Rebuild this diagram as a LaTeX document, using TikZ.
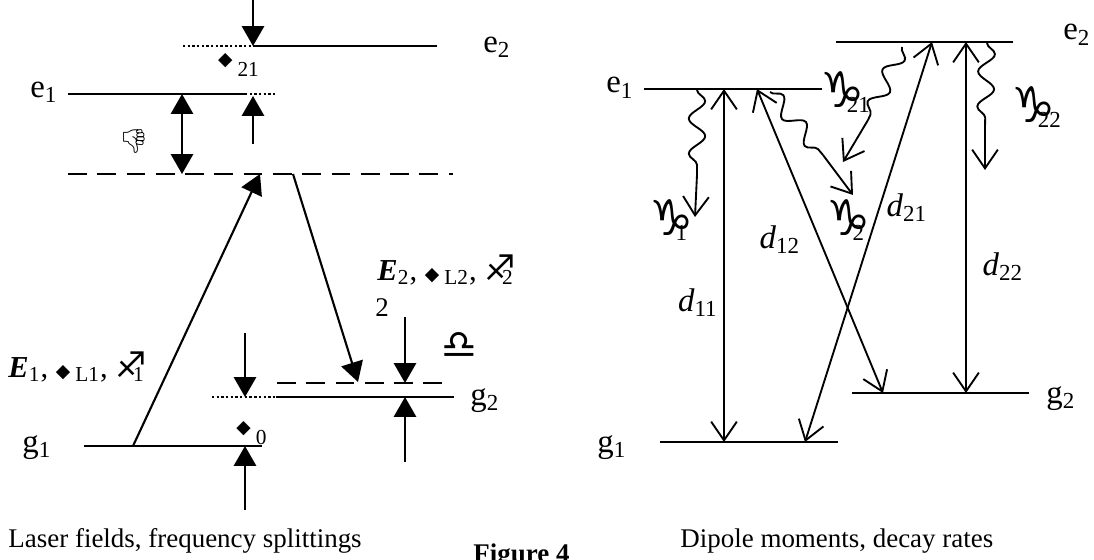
\documentclass[tikz,border=0pt]{standalone}
\usepackage{fontspec}
\setmainfont{Liberation Serif}
\newfontfamily\symfont{DejaVu Sans}
\newfontfamily\emojifont{Noto Emoji}
\usetikzlibrary{arrows.meta,decorations.pathmorphing}
\newcommand{\dmd}{{\symfont\fontsize{8pt}{8pt}\selectfont ◆}}
\newcommand{\capr}[1]{{\symfont\fontsize{21pt}{21pt}\selectfont ♑}\kern-0.55em\textsubscript{#1}}
\newcommand{\sgtr}[1]{{\symfont\fontsize{15pt}{15pt}\selectfont ♐}\kern-0.45em\textsubscript{#1}}
\tikzset{
  lvl/.style={line width=0.9pt},
  dotlvl/.style={line width=0.9pt, dash pattern=on 1pt off 1pt},
  dashlvl/.style={line width=0.9pt, dash pattern=on 8pt off 4.5pt},
  farr/.style={-{Triangle[length=8.5pt,width=9.5pt]}, line width=0.9pt},
  fdarr/.style={{Triangle[length=8.5pt,width=9.5pt]}-{Triangle[length=8.5pt,width=9.5pt]}, line width=0.9pt},
  oarr/.style={-{Straight Barb[length=8pt,width=11pt]}, line width=0.8pt},
  odarr/.style={{Straight Barb[length=8pt,width=11pt]}-{Straight Barb[length=8pt,width=11pt]}, line width=0.8pt},
  wavy/.style={decorate, decoration={snake, amplitude=3.5pt, segment length=15pt}, line width=0.8pt},
  lbl/.style={inner sep=0pt},
  big/.style={lbl, font=\fontsize{14pt}{16pt}\selectfont}
}

\begin{document}
\begin{tikzpicture}[x=0.015cm, y=-0.015cm, font=\fontsize{11.5pt}{14pt}\selectfont]
\useasboundingbox (0,0) rectangle (1094,560);

% laser fields, frequency splittings
\coordinate (e2a) at (183,46);
\coordinate (e2b) at (253,46);
\coordinate (e2c) at (437,46);
\coordinate (e1a) at (68,94);
\coordinate (e1b) at (245,94);
\coordinate (e1c) at (276,94);
\coordinate (va) at (68,174);
\coordinate (vb) at (453,174);
\coordinate (wa) at (277,383);
\coordinate (wb) at (447,383);
\coordinate (g2a) at (212,397);
\coordinate (g2b) at (276,397);
\coordinate (g2c) at (454,397);
\coordinate (g1a) at (84,446);
\coordinate (g1b) at (262,446);
\draw[dotlvl] (e2a) -- (e2b);
\draw[lvl] (e2b) -- (e2c);
\draw[lvl] (e1a) -- (e1b);
\draw[dotlvl] (e1b) -- (e1c);
\draw[dashlvl] (va) -- (vb);
\draw[dashlvl] (wa) -- (wb);
\draw[dotlvl] (g2a) -- (g2b);
\draw[lvl] (g2b) -- (g2c);
\draw[lvl] (g1a) -- (g1b);

\node[big, anchor=base] (le2) at (497,52) {e\textsubscript{2}};
\node[big, anchor=base] (le1) at (44,97) {e\textsubscript{1}};
\node[big, anchor=base] (lg2) at (485,405) {g\textsubscript{2}};
\node[big, anchor=base] (lg1) at (37,452) {g\textsubscript{1}};

\coordinate (t0) at (253,-2);
\coordinate (t1) at (253,46);
\coordinate (u0) at (253,144);
\coordinate (u1) at (253,96);
\coordinate (s0) at (182,94);
\coordinate (s1) at (182,174);
\draw[farr] (t0) -- (t1);
\draw[farr] (u0) -- (u1);
\draw[fdarr] (s0) -- (s1);
\node[lbl, font=\fontsize{13pt}{14pt}\selectfont] (w21) at (239,65) {\dmd\,\raisebox{-3pt}{\textsubscript{21}}};
\node[lbl] (dlt) at (134,141) {\emojifont\fontsize{10pt}{10pt}\selectfont 👎};

\coordinate (p0) at (133,446);
\coordinate (p1) at (260,174);
\coordinate (q0) at (293,174);
\coordinate (q1) at (358,382);
\draw[farr] (p0) -- (p1);
\draw[farr] (q0) -- (q1);
\node[lbl, anchor=west, font=\fontsize{13pt}{14pt}\selectfont] (f1) at (8,367) {\textbf{\textit{E}}\textsubscript{1}, \dmd\,\textsubscript{L1}, \sgtr{1}};
\node[lbl, anchor=west, font=\fontsize{13pt}{14pt}\selectfont] (f2) at (377,270) {\textbf{\textit{E}}\textsubscript{2}, \dmd\,\textsubscript{L2}, \sgtr{2}};
\node[lbl] (f2b) at (382,308) {2};
\node[lbl] (dl) at (459,345) {\symfont\fontsize{17pt}{17pt}\selectfont ♎};

\coordinate (h0) at (245,333);
\coordinate (h1) at (245,397);
\coordinate (k0) at (405,317);
\coordinate (k1) at (405,383);
\coordinate (m0) at (405,462);
\coordinate (m1) at (405,397);
\coordinate (n0) at (245,510);
\coordinate (n1) at (245,446);
\draw[farr] (h0) -- (h1);
\draw[farr] (k0) -- (k1);
\draw[farr] (m0) -- (m1);
\draw[farr] (n0) -- (n1);
\node[lbl, font=\fontsize{13pt}{14pt}\selectfont] (w0) at (252,433) {\dmd\,\raisebox{-3pt}{\textsubscript{0}}};

\node[lbl, anchor=base west] (capl) at (8,547) {Laser fields, frequency splittings};
\node[lbl, anchor=base west, font=\fontsize{11.5pt}{14pt}\selectfont\bfseries] (fig) at (473,562) {Figure 4};

% dipole moments, decay rates
\coordinate (E1a) at (644,89);
\coordinate (E1b) at (822,89);
\coordinate (E2a) at (836,42);
\coordinate (E2b) at (1013,42);
\coordinate (G1a) at (660,442);
\coordinate (G1b) at (838,442);
\coordinate (G2a) at (852,393);
\coordinate (G2b) at (1029,393);
\draw[lvl] (E1a) -- (E1b);
\draw[lvl] (E2a) -- (E2b);
\draw[lvl] (G1a) -- (G1b);
\draw[lvl] (G2a) -- (G2b);
\node[big, anchor=base] (lE1) at (620,93) {e\textsubscript{1}};
\node[big, anchor=base] (lE2) at (1077,40) {e\textsubscript{2}};
\node[big, anchor=base] (lG1) at (612,452) {g\textsubscript{1}};
\node[big, anchor=base] (lG2) at (1061,403) {g\textsubscript{2}};

\coordinate (d11a) at (724,89);
\coordinate (d11b) at (724,442);
\coordinate (d12a) at (757,89);
\coordinate (d12b) at (883,393);
\coordinate (d21a) at (932,42);
\coordinate (d21b) at (805,442);
\coordinate (d22a) at (966,42);
\coordinate (d22b) at (966,393);
\draw[odarr] (d11a) -- (d11b);
\draw[odarr] (d12a) -- (d12b);
\draw[odarr] (d21a) -- (d21b);
\draw[odarr] (d22a) -- (d22b);
\node[big] (ld11) at (698,303) {\textit{d}\textsubscript{11}};
\node[big] (ld12) at (780,240) {\textit{d}\textsubscript{12}};
\node[big] (ld21) at (907,208) {\textit{d}\textsubscript{21}};
\node[big] (ld22) at (1003,267) {\textit{d}\textsubscript{22}};

\coordinate (r1a) at (697,90);
\coordinate (r1b) at (697,175);
\coordinate (r1c) at (695,217);
\coordinate (r2a) at (770,92);
\coordinate (r2b) at (823,155);
\coordinate (r2c) at (853,195);
\coordinate (r3a) at (902,47);
\coordinate (r3b) at (868,120);
\coordinate (r3c) at (843,162);
\coordinate (r4a) at (987,43);
\coordinate (r4b) at (985,127);
\coordinate (r4c) at (985,170);
\draw[wavy] (r1a) -- (r1b);
\draw[oarr] (r1b) -- (r1c);
\draw[wavy] (r2a) -- (r2b);
\draw[oarr] (r2b) -- (r2c);
\draw[wavy] (r3a) -- (r3b);
\draw[oarr] (r3b) -- (r3c);
\draw[wavy] (r4a) -- (r4b);
\draw[oarr] (r4b) -- (r4c);
\node[big] (lr1) at (669,220) {\capr{1}};
\node[big] (lr2) at (846,220) {\capr{2}};
\node[big] (lr3) at (846,92) {\capr{21}};
\node[big] (lr4) at (1037,107) {\capr{22}};

\node[lbl, anchor=base west] (capR) at (680,547) {Dipole moments, decay rates};
\end{tikzpicture}
\end{document}
